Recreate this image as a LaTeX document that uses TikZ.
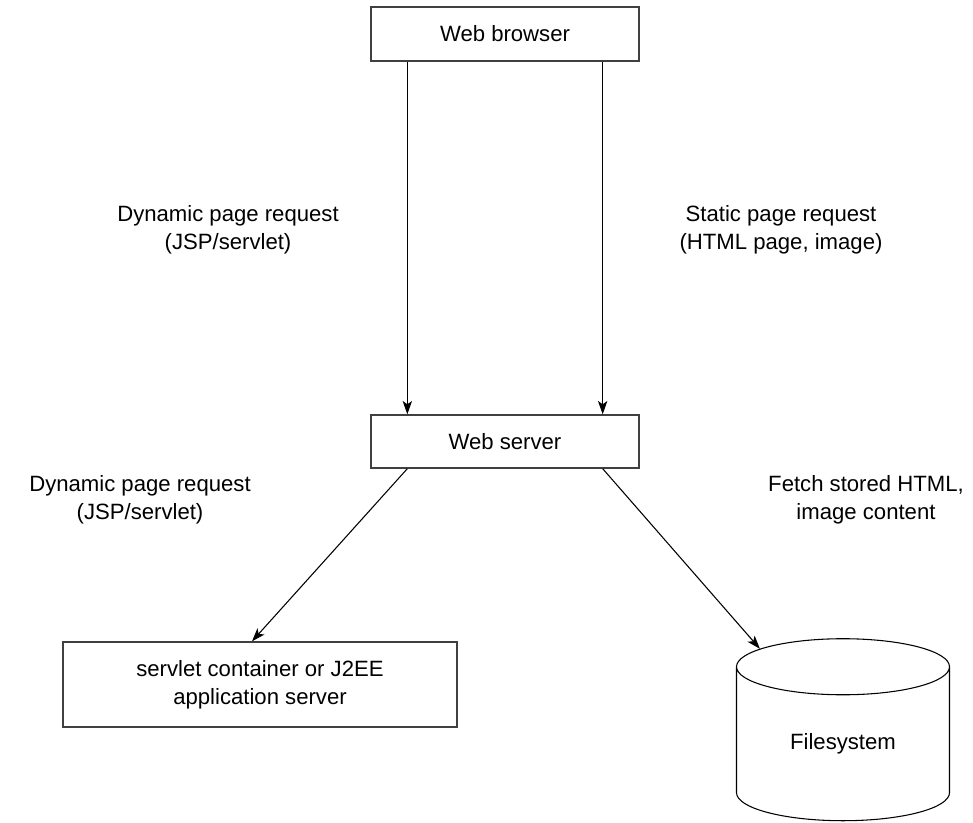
\documentclass[tikz,border=0pt]{standalone}
\usepackage{fontspec}
\setmainfont{Liberation Sans}
\usetikzlibrary{positioning, shapes.geometric, arrows.meta}
\tikzset{
	labeltext/.style={font=\fontsize{16.6}{21}\selectfont, align=center}
}
\def\px{0.75pt}

\begin{document}
\begin{tikzpicture}[x=0.75pt, y=-0.75pt]

\tikzset{
    boxnode/.style={
        shape=rectangle,
        draw=black!75,
        line width=1pt,
        fill=white,
        inner sep=0pt,
        labeltext
    },
    storenode/.style={
        shape=cylinder,
        shape border rotate=90,
        aspect=0.53,
        draw=black,
        line width=0.8pt,
        inner sep=0pt,
        labeltext
    },
    flow/.style={
        line width=0.8pt,
        -{Stealth[length=10pt,width=7pt,inset=2.5pt]}
    }
}

\useasboundingbox (0,0) rectangle (973,823);

\node[boxnode, minimum width=268*\px, minimum height=54*\px] (browser) at (505,34) {Web browser};
\node[boxnode, minimum width=268*\px, minimum height=53*\px] (server) at (505,441.5) {Web server};
\node[boxnode, minimum width=394*\px, minimum height=85*\px] (servlet) at (260,684.5) {servlet container or J2EE\\application server};
\node[storenode, minimum width=213*\px, minimum height=182*\px] (fs) at (843,744) {Filesystem};

\node[labeltext] (dynreq1) at (228,230) {Dynamic page request\\(JSP/servlet)};
\node[labeltext] (statreq) at (781,230) {Static page request\\(HTML page, image)};
\node[labeltext] (dynreq2) at (140,500) {Dynamic page request\\(JSP/servlet)};
\node[labeltext] (fetch) at (866,500) {Fetch stored HTML,\\image content};

\draw[flow] ([xshift=37*\px]browser.south west) -- ([xshift=37*\px]server.north west);
\draw[flow] ([xshift=-37*\px]browser.south east) -- ([xshift=-37*\px]server.north east);
\draw[flow] ([xshift=37*\px]server.south west) -- ([xshift=-8*\px]servlet.north);
\draw[flow] ([xshift=-37*\px]server.south east) -- (fs);
\end{tikzpicture}
\end{document}
